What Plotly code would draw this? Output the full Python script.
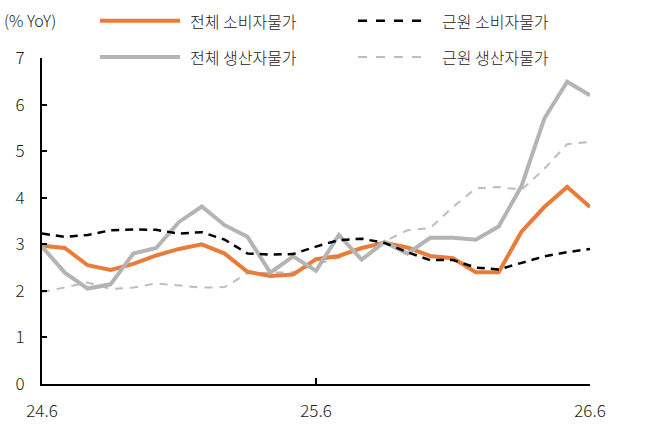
import plotly.graph_objects as go

# ---------------- data ----------------
months = ["24.6", "24.7", "24.8", "24.9", "24.10", "24.11", "24.12",
          "25.1", "25.2", "25.3", "25.4", "25.5", "25.6", "25.7", "25.8",
          "25.9", "25.10", "25.11", "25.12", "26.1", "26.2", "26.3", "26.4",
          "26.5", "26.6"]
tick_labels = ["24.6", "25.6", "26.6"]

cpi = [2.97, 2.92, 2.55, 2.45, 2.58, 2.76, 2.90, 3.00, 2.80, 2.41, 2.32, 2.35,
       2.68, 2.75, 2.92, 3.03, 2.93, 2.75, 2.70, 2.40, 2.40, 3.27, 3.80, 4.23, 3.80]
core_cpi = [3.23, 3.16, 3.20, 3.30, 3.32, 3.31, 3.23, 3.26, 3.10, 2.80, 2.78, 2.79,
            2.95, 3.09, 3.12, 3.03, 2.83, 2.66, 2.66, 2.50, 2.46, 2.60, 2.74, 2.83, 2.90]
ppi = [2.95, 2.39, 2.05, 2.14, 2.80, 2.92, 3.48, 3.81, 3.41, 3.16, 2.39, 2.74,
       2.43, 3.20, 2.67, 3.05, 2.80, 3.14, 3.14, 3.10, 3.38, 4.25, 5.70, 6.49, 6.20]
core_ppi = [1.97, 2.07, 2.18, 2.04, 2.07, 2.16, 2.12, 2.07, 2.08, 2.38, 2.39, 2.40,
            2.57, 2.71, 2.92, 3.06, 3.30, 3.35, 3.80, 4.20, 4.23, 4.17, 4.62, 5.15, 5.20]

names = ["전체 소비자물가", "근원 소비자물가", "전체 생산자물가", "근원 생산자물가"]

# ---------------- styles ----------------
FONT = "Noto Sans CJK KR"
TXT = "#222222"
ORANGE = "#E97C3A"
GRAY = "#B4B4B4"
LGRAY = "#BDBDBD"
BLACK = "#000000"

W, H = 648, 434
ML, MR, MT, MB = 42, 58, 58, 44
PW, PH = W - ML - MR, H - MT - MB


def px_x(px):
    return (px - ML) / PW


def px_y(py):
    return (H - MB - py) / PH


fig = go.Figure()

series = [
    (core_ppi, names[3], dict(color=LGRAY, width=2, dash="8px,7px")),
    (cpi, names[0], dict(color=ORANGE, width=4)),
    (ppi, names[2], dict(color=GRAY, width=4)),
    (core_cpi, names[1], dict(color=BLACK, width=2.5, dash="8px,6px")),
]
for vals, nm, ln in series:
    fig.add_trace(go.Scatter(x=months, y=vals, mode="lines", name=nm,
                             line=ln, showlegend=False, cliponaxis=False))

# end labels
for vals in [ppi, core_ppi, cpi, core_cpi]:
    fig.add_annotation(x=months[-1], y=vals[-1], text=f"{vals[-1]:.1f}",
                       xref="x", yref="y", xanchor="left", yanchor="middle",
                       xshift=18, showarrow=False,
                       font=dict(family=FONT, size=17, color=TXT, weight=300))

# manual legend (long line samples)
legend_items = [
    (names[0], dict(color=ORANGE, width=4), 100, 180, 188, 20),
    (names[1], dict(color=BLACK, width=2.5, dash="dash"), 358, 428, 440, 20),
    (names[2], dict(color=GRAY, width=4), 100, 180, 188, 57),
    (names[3], dict(color=LGRAY, width=2, dash="dash"), 358, 428, 440, 57),
]
for nm, ln, x0, x1, tx, yy in legend_items:
    fig.add_shape(type="line", xref="paper", yref="paper",
                  x0=px_x(x0), x1=px_x(x1), y0=px_y(yy), y1=px_y(yy),
                  line=ln)
    fig.add_annotation(x=px_x(tx), y=px_y(yy), xref="paper", yref="paper",
                       text=nm, showarrow=False, xanchor="left", yanchor="middle",
                       font=dict(family=FONT, size=16, color=TXT, weight=300))

fig.add_annotation(x=px_x(2), y=px_y(19), xref="paper", yref="paper",
                   text="(% YoY)", showarrow=False, xanchor="left", yanchor="middle",
                   font=dict(family=FONT, size=16, color=TXT, weight=300))

fig.update_layout(
    width=W, height=H,
    margin=dict(l=ML, r=MR, t=MT, b=MB),
    paper_bgcolor="white", plot_bgcolor="white",
    font=dict(family=FONT, size=17, color=TXT),
    xaxis=dict(type="category", range=[0, len(months) - 1],
               tickvals=tick_labels, ticktext=tick_labels,
               showline=True, linecolor=BLACK, linewidth=2,
               ticks="inside", ticklen=6, tickwidth=2, tickcolor=BLACK,
               showgrid=False, zeroline=False, ticklabelstandoff=11,
               tickfont=dict(family=FONT, size=17, color=TXT, weight=300)),
    yaxis=dict(range=[0, 7], tickvals=[0, 1, 2, 3, 4, 5, 6, 7],
               showline=True, linecolor=BLACK, linewidth=2,
               ticks="inside", ticklen=5, tickwidth=2, tickcolor=BLACK,
               showgrid=False, zeroline=False, ticklabelstandoff=12,
               tickfont=dict(family=FONT, size=17, color=TXT, weight=300)),
)

fig.write_html("out.html")
